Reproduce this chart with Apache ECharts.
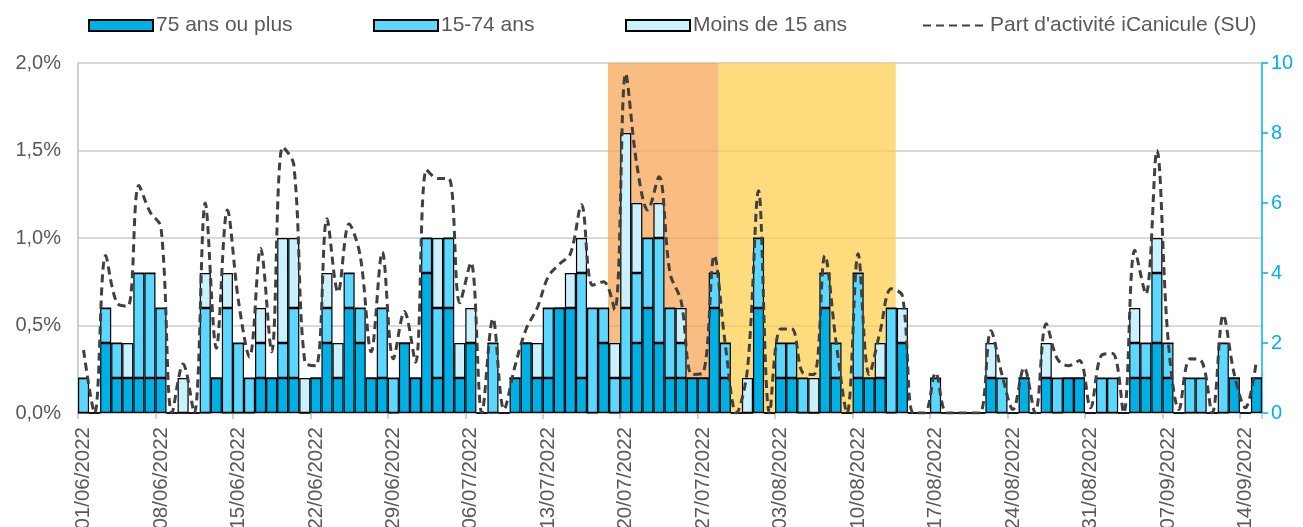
<!DOCTYPE html>
<html>
<head>
<meta charset="utf-8">
<script src="https://cdn.jsdelivr.net/npm/echarts@6/dist/echarts.min.js"></script>
<style>
html,body{margin:0;padding:0;background:#fff;}
#chart{width:1303px;height:527px;}
</style>
</head>
<body>
<div id="chart"></div>
<script>
// Categories: daily dates from 01/06/2022 to 15/09/2022
const monthSpans = [['06', 30], ['07', 31], ['08', 31], ['09', 15]];
const categories = [];
monthSpans.forEach(function (m) {
  for (let d = 1; d <= m[1]; d++) {
    categories.push((d < 10 ? '0' + d : '' + d) + '/' + m[0] + '/2022');
  }
});

// Stacked bar counts (right axis)
const age75plus = [0,0,2,1,1,1,1,1,0,0,0,0,1,0,0,0,1,1,1,1,0,1,2,1,3,2,1,1,0,2,
  1,4,1,3,1,2,0,0,0,1,2,1,1,3,3,1,0,2,0,1,2,3,2,1,1,1,1,3,1,0,
  0,3,0,1,1,0,0,3,1,0,1,1,1,0,2,0,0,0,0,0,0,0,1,0,0,1,0,1,0,1,
  1,0,0,0,0,1,1,2,1,0,0,0,0,0,1,0,1];
const age15to74 = [1,0,1,1,0,3,3,2,0,0,0,3,0,3,2,1,1,0,1,2,0,0,1,0,1,1,0,2,1,0,
  0,1,2,2,0,0,0,2,0,0,0,0,2,0,0,3,3,1,1,2,2,2,3,2,1,0,0,1,1,0,
  0,2,0,1,1,1,0,1,1,0,3,0,0,3,0,0,0,1,0,0,0,0,0,1,0,0,0,0,1,0,
  0,0,1,1,0,1,1,2,1,0,1,1,0,2,0,0,0];
const ageUnder15 = [0,0,0,0,1,0,0,0,0,1,0,1,0,1,0,0,1,0,3,2,1,0,1,1,0,0,0,0,0,0,
  0,0,2,0,1,1,0,0,0,0,0,1,0,0,1,1,0,0,1,5,2,0,1,0,1,0,0,0,0,0,
  1,0,0,0,0,0,1,0,0,0,0,0,1,0,1,0,0,0,0,0,0,0,1,0,0,0,0,1,0,0,
  0,0,0,0,0,1,0,1,0,0,0,0,0,0,0,0,0];
// Part d'activité iCanicule (SU), in %
const partActivite = [0.36,0.0,0.90,0.63,0.61,1.30,1.15,1.06,0.0,0.28,0.0,1.20,0.37,1.16,0.64,0.32,0.94,0.35,1.52,1.42,
  0.29,0.27,1.11,0.69,1.08,0.90,0.35,0.92,0.31,0.58,0.29,1.39,1.34,1.34,0.63,0.86,0.0,0.54,0.02,0.27,
  0.48,0.60,0.78,0.85,0.91,1.19,0.73,0.75,0.59,1.94,1.42,1.16,1.35,0.80,0.64,0.22,0.23,0.90,0.39,0.0,
  0.25,1.27,0.0,0.48,0.48,0.23,0.22,0.90,0.41,0.0,0.91,0.22,0.47,0.71,0.67,0.0,0.0,0.23,0.0,0.0,
  0.0,0.0,0.47,0.22,0.02,0.26,0.0,0.51,0.31,0.27,0.30,0.03,0.33,0.34,0.0,0.93,0.68,1.50,0.43,0.02,
  0.31,0.30,0.0,0.56,0.22,0.03,0.30];

// Vigilance periods (first and last day)
const orangePeriod = ['19/07/2022', '28/07/2022'];
const yellowPeriod = ['29/07/2022', '13/08/2022'];

const FONT = "'Liberation Sans', Arial, sans-serif";
const TXT = '#595959';
const C75 = '#00B0E4';
const C1574 = '#5CD7FF';
const CU15 = '#C9F1FF';

function bandIdx(p) {
  return [categories.indexOf(p[0]), categories.indexOf(p[1]) + 1];
}
const ob = bandIdx(orangePeriod), yb = bandIdx(yellowPeriod);

const chart = echarts.init(document.getElementById('chart'), null, {renderer: 'canvas'});

function legendAt(left, item, icon) {
  const l = {
    data: [item], left: left, top: 15, padding: 0, itemWidth: 64, itemHeight: 11, itemGap: 0,
    textStyle: {fontFamily: FONT, fontSize: 21, color: TXT, padding: [0, 0, 0, -2]},
    selectedMode: false
  };
  if (icon) l.icon = icon;
  return l;
}

const barStyleBase = {borderColor: '#000', borderWidth: 1.2};

chart.setOption({
  animation: false,
  textStyle: {fontFamily: FONT},
  legend: [
    legendAt(88, '75 ans ou plus', 'rect'),
    legendAt(373, '15-74 ans', 'rect'),
    legendAt(625, 'Moins de 15 ans', 'rect'),
    legendAt(922, {name: "Part d'activité iCanicule (SU)", itemStyle: {opacity: 0}})
  ],
  grid: {left: 78, right: 41, top: 63, bottom: 114, containLabel: false, outerBoundsMode: 'none'},
  xAxis: [{
    type: 'category',
    data: categories,
    boundaryGap: true,
    axisLine: {show: true, lineStyle: {color: '#BFBFBF', width: 1.5}},
    axisTick: {show: true, interval: 6, length: 6, lineStyle: {color: '#BFBFBF', width: 1.5}},
    axisLabel: {interval: 6, rotate: 90, fontSize: 20.5, color: TXT, fontFamily: FONT, margin: 14},
    splitLine: {show: false}
  }, {
    type: 'value', min: 0, max: categories.length, show: false,
    axisLine: {show: false}, splitLine: {show: false}
  }],
  yAxis: [{
    type: 'value', min: 0, max: 2, interval: 0.5, position: 'left',
    axisLine: {show: true, lineStyle: {color: '#BFBFBF', width: 1.5}},
    axisTick: {show: false},
    axisLabel: {fontSize: 20, color: TXT, fontFamily: FONT, margin: 17,
      formatter: function (v) { return v.toFixed(1).replace('.', ',') + '%'; }},
    splitLine: {show: true, lineStyle: {color: '#D9D9D9', width: 2}}
  }, {
    type: 'value', min: 0, max: 10, interval: 2, position: 'right',
    axisLine: {show: true, lineStyle: {color: '#00B0F0', width: 1.5}},
    axisTick: {show: true, inside: false, length: 6, lineStyle: {color: '#00B0F0', width: 1.5}},
    axisLabel: {fontSize: 20, color: '#00B0F0', fontFamily: FONT, margin: 9},
    splitLine: {show: false}
  }],
  series: [
    {
      name: 'bands', type: 'line', xAxisIndex: 1, yAxisIndex: 0,
      data: [[0, 0]], symbol: 'none', lineStyle: {width: 0, opacity: 0}, z: 1, silent: true,
      markArea: {
        silent: true,
        data: [
          [{xAxis: ob[0] - 0.1, itemStyle: {color: 'rgba(247,160,75,0.7)'}}, {xAxis: ob[1] - 0.1}],
          [{xAxis: yb[0] - 0.1, itemStyle: {color: 'rgba(254,205,70,0.7)'}}, {xAxis: yb[1] - 0.1}]
        ]
      }
    },
    {
      name: '75 ans ou plus', type: 'bar', stack: 'age', yAxisIndex: 1, xAxisIndex: 0,
      data: age75plus, barCategoryGap: '0%', z: 3,
      itemStyle: Object.assign({color: C75}, barStyleBase)
    },
    {
      name: '15-74 ans', type: 'bar', stack: 'age', yAxisIndex: 1, xAxisIndex: 0,
      data: age15to74, barCategoryGap: '0%', z: 3,
      itemStyle: Object.assign({color: C1574}, barStyleBase)
    },
    {
      name: 'Moins de 15 ans', type: 'bar', stack: 'age', yAxisIndex: 1, xAxisIndex: 0,
      data: ageUnder15, barCategoryGap: '0%', z: 3,
      itemStyle: Object.assign({color: CU15}, barStyleBase)
    },
    {
      name: "Part d'activité iCanicule (SU)", type: 'line', yAxisIndex: 0, xAxisIndex: 0,
      data: partActivite, smooth: 0.35, symbol: 'none', z: 5,
      itemStyle: {color: '#404040'},
      lineStyle: {color: '#404040', width: 3, type: [8, 5]}
    }
  ]
});
</script>
</body>
</html>
